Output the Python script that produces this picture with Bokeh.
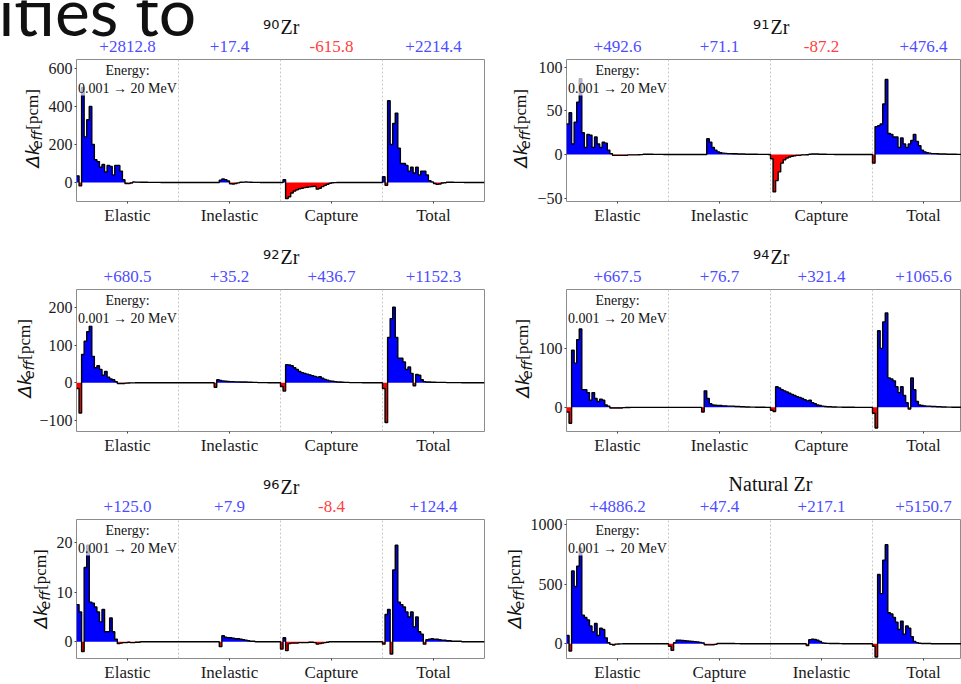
from math import pi
from bokeh.plotting import figure
from bokeh.layouts import column, row
from bokeh.models import ColumnDataSource, FixedTicker, Label, Range1d
from bokeh.core.properties import value
from bokeh.embed import file_html
from bokeh.resources import INLINE

BINS = 40
SERIF = "Liberation Serif"

SECTIONS_STD = ["Elastic", "Inelastic", "Capture", "Total"]
SECTIONS_NAT = ["Elastic", "Capture", "Inelastic", "Total"]

# ---------------- data (pcm per energy group, 0.001 -> 20 MeV) ----------------
el90 = [35, -18, 500, 240, 330, 400, 200, 120, 110, 80, 95, 55, 90, 85, 40, 90, 90, 60, 15, -5,
        -6, -3, 3, 2, 2, 1, 1, 1, 0.5, 0.5, 0.5, 0.5, 0.5, 0.3, 0.3, 0.3, 0.2, 0.2, 0.2, 0.1]
inel90 = [0, 0, 0, 0, 0, 0, 0, 0, 0, 0, 0, 0, 0, 0, 0, 0, 12, 18, 15, 8,
          -7, -8, -5, -2, 1, 2, 3, 2, 1, 0.5, 0.5, 0.5, 0.3, 0.3, 0.2, 0.2, 0.1, 0.1, 0.1, 0]
cap90 = [0, 15, -85, -75, -55, -45, -38, -33, -30, -27, -25, -23, -21, -20, -35, -30, -22, -15, -9, -4,
         -1, -0.5, -0.3, -0.2, -0.2, -0.1, -0.1, -0.1, 0, 0, 0, 0, 0, 0, 0, 0, 0, 0, 0, 0]
tot90 = [30, -15, 430, 200, 310, 365, 180, 100, 100, 90, 60, 80, 50, 80, 40, 60, 60, 40, 10, 3,
         -5, -10, -8, -3, -1, 1, 1, 1, 0.5, 0.5, 0.5, 0.5, 0.3, 0.3, 0.3, 0.2, 0.2, 0.2, 0.1, 0.1]

el91 = [35, 48, 12, 37, 60, 87, 25, 8, 23, 22, 8, 20, 12, 8, 14, 13, 5, 1, -1, -1,
        -1, -1, -1, -1, -0.5, -0.5, -0.5, -0.5, -0.3, -0.2, 0.3, 0.3, 0.2, 0.2, 0.1, 0.1, 0.1, 0.1, 0, 0]
inel91 = [0, 0, 0, 0, 0, 0, 0, 0, 0, 0, 0, 0, 0, 0, 0, 18, 14, 8, 5, 3,
          2, 1.5, 1.2, 1, 1, 0.8, 0.8, 0.6, 0.5, 0.5, 0.3, 0.3, 0.2, 0.2, 0.2, 0.1, 0.1, 0.1, 0.1, 0]
cap91 = [-5, -43, -30, -20, -10, -6, -4, -3, -2, -1.5, -1, -1, -0.5, -0.5, -0.3, 0.3, 0.5, 0.5, 0.5, 0.3,
         0.2, 0.2, 0.1, 0.1, 0.1, 0, 0, 0, 0, 0, 0, 0, 0, 0, 0, 0, 0, 0, 0, 0]
tot91 = [-10, 32, 33, 35, 58, 86, 24, 23, 20, 20, 8, 19, 12, 8, 12, 16, 23, 15, 10, 5,
         3, 2, 1.5, 1, 1, 0.8, 0.6, 0.5, 0.5, 0.3, 0.3, 0.2, 0.2, 0.1, 0.1, 0.1, 0, 0, 0, 0]

el92 = [-15, -80, 75, 110, 135, 150, 70, 40, 45, 35, 20, 30, 15, 10, 8, 3, -2, -2, -2, -1,
        -0.5, -0.3, -0.2, -0.1, 0, 0, 0, 0, 0, 0, 0, 0, 0, 0, 0, 0, 0, 0, 0, 0]
inel92 = [0, 0, 0, 0, 0, 0, 0, 0, 0, 0, 0, 0, 0, 0, -12, 8, 6, 5, 4, 3.5,
          3, 3, 2.5, 2.5, 2, 2, 2, 1.5, 1.5, 1, 1, 0.5, 0.5, 0.3, 0.3, 0.2, 0.2, 0.1, 0.1, 0]
cap92 = [-10, -22, 48, 47, 45, 40, 35, 30, 27, 25, 23, 21, 19, 17, 15, 16, 12, 9, 7, 5,
         4, 3, 2, 2, 1.5, 1, 1, 0.5, 0.5, 0.5, 0.3, 0.3, 0.2, 0.2, 0.1, 0.1, 0.1, 0, 0, 0]
tot92 = [-15, -105, 120, 170, 200, 120, 65, 65, 55, 35, 42, 25, -8, 22, 20, 8, 3, 2, 2, 1.5,
         1.5, 1, 1, 1, 1, 0.5, 0.5, 0.5, 0.5, 0.3, 0.3, 0.2, 0.2, 0.2, 0.1, 0.1, 0.1, 0, 0, 0]

el94 = [-8, -27, 97, 75, 115, 133, 30, 30, 25, 12, 25, 15, 10, 14, 12, 4, 2, -1, -1, -1,
        -1, -1, -0.5, -0.3, -0.2, 0, 0, 0, 0, 0, 0, 0, 0, 0, 0, 0, 0, 0, 0, 0]
inel94 = [0, 0, 0, 0, 0, 0, 0, 0, 0, 0, 0, 0, 0, -8, 28, 15, 6, 4, 3.5, 3,
          3, 2.5, 2.5, 2, 2, 2, 1.5, 1.5, 1, 1, 0.5, 0.5, 0.3, 0.3, 0.2, 0.2, 0.1, 0.1, 0, 0]
cap94 = [-5, -7, 35, 33, 30, 28, 26, 24, 22, 20, 18, 17, 15, 13, 11, 12, 8, 6, 4, 3,
         2, 1.5, 1, 1, 0.5, 0.5, 0.3, 0.3, 0.2, 0.2, 0.1, 0.1, 0.1, 0, 0, 0, 0, 0, 0, 0]
tot94 = [-10, -35, 130, 100, 145, 160, 50, 48, 45, 35, 25, 35, 20, 8, -3, 50, 30, 10, 4, 3,
         2.5, 2, 2, 1.5, 1.5, 1, 1, 0.5, 0.5, 0.3, 0.3, 0.2, 0.2, 0.1, 0.1, 0.1, 0, 0, 0, 0]

el96 = [7.5, 6, -2, 15, 19.5, 8, 7.8, 7, 6, 4, 6.5, 2, 2, 4.8, 2, 0.5, -0.4, -0.3, -0.2, -0.2,
        -0.1, -0.2, -0.2, -0.1, -0.1, 0, 0, 0, 0, 0, 0, 0, 0, 0, 0, 0, 0, 0, 0, 0]
inel96 = [0, 0, 0, 0, 0, 0, 0, 0, 0, 0, 0, 0, 0, 0, 0, 0, -1, 1.2, 0.9, 0.8,
          0.8, 0.7, 0.6, 0.6, 0.5, 0.4, 0.3, 0.2, 0.1, 0.1, 0, 0, 0, 0, 0, 0, 0, 0, 0, 0]
cap96 = [-1.5, 0.8, -1.8, -0.4, -0.3, -0.3, -0.3, -0.2, -0.2, -0.2, -0.2, -0.1, -0.1, -0.2, -0.5, -0.4, -0.3, -0.2, -0.1, 0,
         0, 0, 0, 0, 0, 0, 0, 0, 0, 0, 0, 0, 0, 0, 0, 0, 0, 0, 0, 0]
tot96 = [-0.5, 5.5, 6.5, -2.5, 14.5, 19.5, 8, 7.5, 7, 6, 5, 6, 3, 5, 2, 1.5, -0.5, 0.4, 0.5, 0.6,
         0.5, 0.5, 0.4, 0.3, 0.3, 0.2, 0.2, 0.1, 0.1, 0.1, 0.1, 0, 0, 0, 0, 0, 0, 0, 0, 0]

elN = [70, -60, 610, 480, 650, 800, 240, 220, 200, 150, 100, 170, 70, 130, 120, 50, 10, -5, -10, -3,
       -1, -0.5, 0, 0, 0, 0, 0, 0, 0, 0, 0, 0, 0, 0, 0, 0, 0, 0, 0, 0]
capN = [-20, -55, 10, 30, 30, 28, 26, 24, 22, 20, 18, 15, 12, 8, -8, -9, -9, -8, -5, 2,
        3, 3, 3, 2, 2, 2, 1.5, 1.5, 1, 1, 0.5, 0.5, 0.3, 0.3, 0.2, 0.2, 0.1, 0, 0, 0]
inelN = [0, 0, 0, 0, 0, 0, 0, 0, 0, 0, 0, 0, 0, 0, -15, 35, 38, 36, 30, 20,
         8, 5, 4, 3, 3, 2, 2, 1.5, 1, 1, 0.5, 0.5, 0.3, 0.3, 0.2, 0.1, 0.1, 0, 0, 0]
totN = [-20, -110, 580, 420, 700, 830, 260, 250, 220, 180, 120, 190, 80, 150, 130, 60, 20, 10, 5, 3,
        3, 2, 2, 1, 1, 0.5, 0.5, 0.3, 0.3, 0.2, 0.2, 0.1, 0.1, 0, 0, 0, 0, 0, 0, 0]

sums90 = [2812.8, 17.4, -615.8, 2214.4]
sums91 = [492.6, 71.1, -87.2, 476.4]
sums92 = [680.5, 35.2, 436.7, 1152.3]
sums94 = [667.5, 76.7, 321.4, 1065.6]
sums96 = [125.0, 7.9, -8.4, 124.4]
sumsN = [4886.2, 47.4, 217.1, 5150.7]

yticks90 = [0, 200, 400, 600]
yticks91 = [-50, 0, 50, 100]
yticks92 = [-100, 0, 100, 200]
yticks94 = [0, 100]
yticks96 = [0, 10, 20]
yticksN = [0, 500, 1000]

PANELS = [
    dict(mass="90", name="Zr", sums=sums90, series=[el90, inel90, cap90, tot90], cats=SECTIONS_STD, yt=yticks90, yr=(-100, 647)),
    dict(mass="91", name="Zr", sums=sums91, series=[el91, inel91, cap91, tot91], cats=SECTIONS_STD, yt=yticks91, yr=(-54, 109)),
    dict(mass="92", name="Zr", sums=sums92, series=[el92, inel92, cap92, tot92], cats=SECTIONS_STD, yt=yticks92, yr=(-129, 247)),
    dict(mass="94", name="Zr", sums=sums94, series=[el94, inel94, cap94, tot94], cats=SECTIONS_STD, yt=yticks94, yr=(-41, 200)),
    dict(mass="96", name="Zr", sums=sums96, series=[el96, inel96, cap96, tot96], cats=SECTIONS_STD, yt=yticks96, yr=(-3.4, 24.7)),
    dict(mass=None, name="Natural Zr", sums=sumsN, series=[elN, capN, inelN, totN], cats=SECTIONS_NAT, yt=yticksN, yr=(-123, 1041)),
]

BLUE = "#0000ff"
RED = "#ff0000"
BLUE_TXT = "#4d4dff"
RED_TXT = "#ff4040"
INK = "#111111"

# ---------------- layout constants (pixels) ----------------
SEC = 102.0                 # pixels per section on the x axis
WL, WR = 505, 456           # widths of left / right blocks
FRAME_L_LEFT, FRAME_R_LEFT = 76, 61   # frame left edge inside each block
STRIPS = [44, 27, 36, 29, 52, 21]     # width of the y-label strip for each panel
PAD_TOP = 5                 # room above each frame for the top tick label
ROWS = [(59, 171, 29), (59, 171, 29), (59, 165, 24)]   # (space above frame, frame+bottom, bottom)


def bare(width, height, xr, yr):
    f = figure(width=width, height=height, x_range=xr, y_range=yr, min_border=0,
               x_axis_location=None, y_axis_location=None, output_backend="svg",
               toolbar_location=None, background_fill_color="white", border_fill_color="white")
    f.grid.visible = False
    f.outline_line_color = None
    return f


def header(cfg, left, hh):
    """hh: header height; texts are placed by their distance from the row's top edge."""
    w = WL if left else WR
    fl = FRAME_L_LEFT if left else FRAME_R_LEFT
    h = bare(w, hh, Range1d(-fl / SEC, (w - fl) / SEC), Range1d(0, hh))
    src = ColumnDataSource(dict(x=[0.5, 1.5, 2.5, 3.5], y=[hh - 45.5] * 4,
                                text=[f"{v:+.1f}" for v in cfg["sums"]],
                                color=[BLUE_TXT if v >= 0 else RED_TXT for v in cfg["sums"]]))
    h.text(x="x", y="y", text="text", text_color="color", source=src, text_align="center",
           text_baseline="middle", text_font=value(SERIF), text_font_size="17px")
    if cfg["mass"]:
        h.text(x=[2.0], y=[hh - 26], text=[cfg["name"]], text_align="left", text_baseline="alphabetic",
               text_font=value(SERIF), text_font_size="20px", text_color=INK)
        h.text(x=[2.0], y=[hh - 24], text=[cfg["mass"]], x_offset=-1, text_align="right",
               text_baseline="alphabetic", text_font=value("DejaVu Sans"), text_font_size="13px",
               text_color=INK)
    else:
        h.text(x=[2.0], y=[hh - 23], text=[cfg["name"]], text_align="center", text_baseline="alphabetic",
               text_font=value(SERIF), text_font_size="20px", text_color=INK)
    return h


def strip(w, hb, bb):
    s = bare(w, hb, Range1d(0, w), Range1d(0, hb))
    xc = w - 12
    y0 = bb + 13
    s.text(x=[xc], y=[y0], text=["\u0394k"], angle=pi / 2, text_font=value("DejaVu Sans"),
           text_font_style="italic", text_font_size="18px", text_align="left",
           text_baseline="middle", text_color=INK)
    s.text(x=[xc + 4], y=[y0 + 23], text=["eff"], angle=pi / 2, text_font=value("DejaVu Sans"),
           text_font_style="italic", text_font_size="14px", text_align="left",
           text_baseline="middle", text_color=INK)
    s.text(x=[xc], y=[y0 + 47], text=["[pcm]"], angle=pi / 2, text_font=value(SERIF),
           text_font_size="17px", text_align="left", text_baseline="middle", text_color=INK)
    return s


def minus(v):
    return f"{v:g}".replace("-", "\u2212")


def panel(cfg, left, sw, hb, bb):
    if left:
        w, bl, br = WL - sw, FRAME_L_LEFT - sw, 21
    else:
        w, bl, br = WR - sw, FRAME_R_LEFT - sw, 0
    fw = w - bl - br
    p = figure(width=w, height=hb, output_backend="svg", toolbar_location=None,
               x_range=Range1d(0, fw / SEC), y_range=Range1d(*cfg["yr"]),
               min_border_left=bl, min_border_right=br, min_border_top=PAD_TOP, min_border_bottom=bb,
               background_fill_color="white", border_fill_color="white")

    vals = []
    for s in cfg["series"]:
        assert len(s) == BINS
        vals += list(s)
    xs = [k + i / BINS for k in range(4) for i in range(BINS)] + [4.0]
    ys = vals + [vals[-1]]
    src = ColumnDataSource(dict(x=xs, y=ys,
                                pos=[max(v, 0) for v in ys],
                                neg=[min(v, 0) for v in ys],
                                zero=[0.0] * len(ys)))
    p.varea_step(x="x", y1="zero", y2="pos", step_mode="after", fill_color=BLUE, source=src)
    p.varea_step(x="x", y1="neg", y2="zero", step_mode="after", fill_color=RED, source=src)
    p.step(x="x", y="y", mode="after", line_color="black", line_width=1.4, source=src)

    p.xaxis.ticker = FixedTicker(ticks=[0.5, 1.5, 2.5, 3.5])
    p.xaxis.major_label_overrides = {0.5 + i: c for i, c in enumerate(cfg["cats"])}
    p.yaxis.ticker = FixedTicker(ticks=cfg["yt"])
    p.yaxis.major_label_overrides = {t: minus(t) for t in cfg["yt"]}
    for ax in (p.xaxis, p.yaxis):
        ax.axis_line_color = None
        ax.major_tick_line_color = "#444444"
        ax.major_tick_in = 0
        ax.major_tick_out = 2
        ax.minor_tick_line_color = None
        ax.major_label_text_font = SERIF
        ax.major_label_text_font_size = "16px"
        ax.major_label_text_color = "#1a1a1a"
    p.xaxis.major_label_text_font_size = "17px"
    p.xaxis.major_label_standoff = 2
    p.yaxis.major_label_standoff = 2
    p.xgrid.ticker = FixedTicker(ticks=[1, 2, 3])
    p.xgrid.grid_line_color = "#c8c8c8"
    p.xgrid.grid_line_dash = "2 2"
    p.ygrid.visible = False
    p.outline_line_color = "#8c8c8c"
    p.outline_line_width = 1

    p.add_layout(Label(x=0.5, y=cfg["yr"][1], x_units="data", y_units="data", y_offset=-3,
                       text="Energy:\n0.001 \u2192 20 MeV", text_align="center", text_baseline="top",
                       text_font=SERIF, text_font_size="14px", text_color=INK,
                       background_fill_color="white", background_fill_alpha=0.7))
    return p


blocks = []
for r, (ht, hb, bb) in enumerate(ROWS):
    hh = ht - PAD_TOP
    cells = []
    for c in range(2):
        k = 2 * r + c
        cfg = PANELS[k]
        left = c == 0
        h = header(cfg, left, hh)
        if r == 0 and left:
            # clipped slide heading visible at the top-left
            h.text(x=[(-2 - FRAME_L_LEFT) / SEC], y=[hh - 10], text=["ities to"], text_align="left",
                   text_baseline="alphabetic", text_font=value("Lato"), text_font_size="66px",
                   text_color=INK)
        sw = STRIPS[k]
        hbody = hb + PAD_TOP
        body = row(strip(sw, hbody, bb), panel(cfg, left, sw, hbody, bb), spacing=0)
        cells.append(column(h, body, spacing=0))
    blocks.append(row(*cells, spacing=0))

layout = column(*blocks, spacing=0)
open("out.html", "w").write(file_html(layout, INLINE))
